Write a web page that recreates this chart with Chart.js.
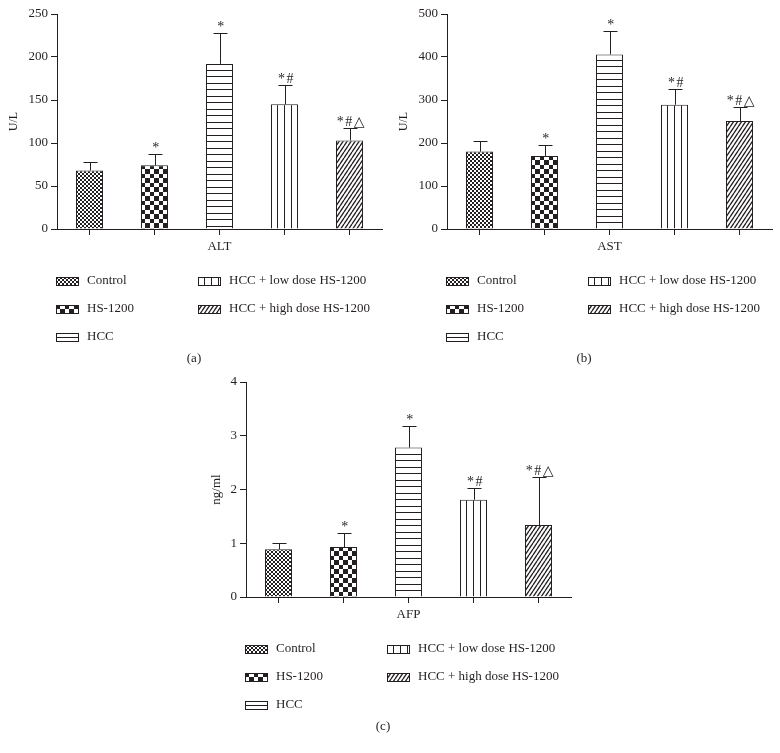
<!DOCTYPE html>
<html>
<head>
<meta charset="utf-8">
<script src="https://cdn.jsdelivr.net/npm/chart.js@4.4.0/dist/chart.umd.min.js"></script>
<style>
  body { margin: 0; background: #fff; }
  #wrap { position: relative; width: 780px; height: 753px; }
  canvas { position: absolute; }
</style>
</head>
<body>
<div id="wrap">
  <canvas id="altChart" width="390" height="372" style="left:0;top:0"></canvas>
  <canvas id="astChart" width="390" height="372" style="left:390px;top:0"></canvas>
  <canvas id="afpChart" width="390" height="372" style="left:189px;top:368px"></canvas>
</div>
<script>
// groups, in bar order
const groups = ['Control', 'HS-1200', 'HCC', 'HCC + low dose HS-1200', 'HCC + high dose HS-1200'];
const marks = ['', '*', '*', '*#', '*#\u25B3'];

// ALT (U/L)
const altMean = [68, 74, 192, 145, 103];
const altErr = [10, 13, 36, 23, 15];
const altTicks = [0, 50, 100, 150, 200, 250];

// AST (U/L)
const astMean = [180, 170, 406, 289, 251];
const astErr = [24, 26, 55, 37, 32];
const astTicks = [0, 100, 200, 300, 400, 500];

// AFP (ng/ml)
const afpMean = [0.89, 0.93, 2.78, 1.81, 1.34];
const afpErr = [0.11, 0.26, 0.40, 0.21, 0.90];
const afpTicks = [0, 1, 2, 3, 4];

const ink = '#231f20';
const serif = '"Liberation Serif", "DejaVu Serif", serif';
const patternKinds = ['fine', 'check', 'hline', 'vline', 'diag'];

Chart.defaults.font.family = serif;
Chart.defaults.font.size = 13;
Chart.defaults.color = ink;

function makeTile(kind) {
  const c = document.createElement('canvas');
  const g = c.getContext('2d');
  const sizes = { fine: [4, 4], check: [9, 9], hline: [4, 13], vline: [27, 4], diag: [4, 6] };
  c.width = sizes[kind][0];
  c.height = sizes[kind][1];
  g.fillStyle = '#fff';
  g.fillRect(0, 0, c.width, c.height);
  g.fillStyle = ink;
  if (kind === 'fine') {
    g.fillRect(0, 0, 2, 2);
    g.fillRect(2, 2, 2, 2);
  } else if (kind === 'check') {
    g.fillRect(0, 0, 4, 4);
    g.fillRect(4, 4, 5, 5);
  } else if (kind === 'hline') {
    g.fillRect(0, 6, 4, 1);
    g.fillRect(0, 12, 4, 1);
  } else if (kind === 'vline') {
    [6, 13, 20].forEach(x => g.fillRect(x, 0, 1, 4));
  } else {
    // steep "/" hatch, wrapped across the tile edges
    g.strokeStyle = ink;
    g.lineWidth = 1.3;
    g.beginPath();
    [-4, 0, 4].forEach(dx => { g.moveTo(dx, 6); g.lineTo(dx + 4, 0); });
    g.stroke();
  }
  return c;
}

function buildPanel(canvasId, xTitle, yTitle, means, errs, ticks, tag, titlePad, titleSize) {
  const ctx = document.getElementById(canvasId).getContext('2d');
  const fills = patternKinds.map(k => ctx.createPattern(makeTile(k), 'repeat'));

  const panelDecor = {
    id: 'panelDecor',
    beforeDatasetsDraw(chart) {
      // anchor each bar's hatch at its own top-left corner
      chart.getDatasetMeta(0).data.forEach((bar, i) => {
        const left = Math.round(bar.x - bar.width / 2);
        fills[i].setTransform(new DOMMatrix().translate(left, Math.round(bar.y)));
      });
    },
    afterDatasetsDraw(chart) {
      const g = chart.ctx;
      const y = chart.scales.y;
      g.save();
      g.strokeStyle = ink;
      g.fillStyle = ink;
      g.lineWidth = 1;
      g.font = '14px ' + serif;
      g.letterSpacing = '1.5px';
      g.textAlign = 'center';
      g.textBaseline = 'alphabetic';
      chart.getDatasetMeta(0).data.forEach((bar, i) => {
        const cx = Math.round(bar.x) + 0.5;
        const top = Math.round(y.getPixelForValue(means[i] + errs[i])) + 0.5;
        g.beginPath();
        g.moveTo(cx, bar.y);
        g.lineTo(cx, top);
        g.moveTo(cx - 7, top);
        g.lineTo(cx + 7, top);
        g.stroke();
        if (marks[i]) g.fillText(marks[i], cx + 1, top - 3);
      });
      g.restore();
    },
    afterDraw(chart) {
      const g = chart.ctx;
      const slots = [[56, 281], [56, 309], [56, 337], [198, 281], [198, 309]];
      g.save();
      g.font = '13px ' + serif;
      g.textBaseline = 'middle';
      g.textAlign = 'left';
      g.lineWidth = 1;
      g.strokeStyle = ink;
      groups.forEach((name, i) => {
        const [sx, sy] = slots[i];
        const top = sy - 4;
        fills[i].setTransform(new DOMMatrix().translate(sx, i === 2 ? top - 2 : top));
        g.fillStyle = fills[i];
        g.fillRect(sx, top, 23, 9);
        g.strokeRect(sx + 0.5, top + 0.5, 22, 8);
        g.fillStyle = ink;
        g.fillText(name, sx + 31, sy);
      });
      g.textAlign = 'center';
      g.fillText(tag, 194, 359);
      g.restore();
    }
  };

  new Chart(ctx, {
    type: 'bar',
    data: {
      labels: groups,
      datasets: [{
        data: means,
        backgroundColor: fills,
        borderColor: ink,
        borderWidth: 1,
        barPercentage: 0.415,
        categoryPercentage: 1
      }]
    },
    options: {
      responsive: false,
      animation: false,
      events: [],
      layout: { padding: { left: 0, top: 14, right: 8, bottom: 118 } },
      plugins: { legend: { display: false }, tooltip: { enabled: false } },
      scales: {
        x: {
          grid: { offset: false, drawOnChartArea: false, tickLength: 6, color: ink },
          border: { color: ink },
          ticks: { display: false },
          title: { display: true, text: xTitle, padding: { top: 0, bottom: 0 } },
          afterFit: s => { s.height = 25; }
        },
        y: {
          min: ticks[0],
          max: ticks[ticks.length - 1],
          afterBuildTicks: s => { s.ticks = ticks.map(v => ({ value: v })); },
          grid: { drawOnChartArea: false, tickLength: 6, color: ink },
          border: { color: ink },
          ticks: { padding: 3 },
          title: { display: true, text: yTitle, font: { size: titleSize }, padding: { top: titlePad, bottom: 0 } },
          afterFit: s => { s.width = 57; }
        }
      }
    },
    plugins: [panelDecor]
  });
}

buildPanel('altChart', 'ALT', 'U/L', altMean, altErr, altTicks, '(a)', 7, 12);
buildPanel('astChart', 'AST', 'U/L', astMean, astErr, astTicks, '(b)', 7, 12);
buildPanel('afpChart', 'AFP', 'ng/ml', afpMean, afpErr, afpTicks, '(c)', 20, 13);
</script>
</body>
</html>
